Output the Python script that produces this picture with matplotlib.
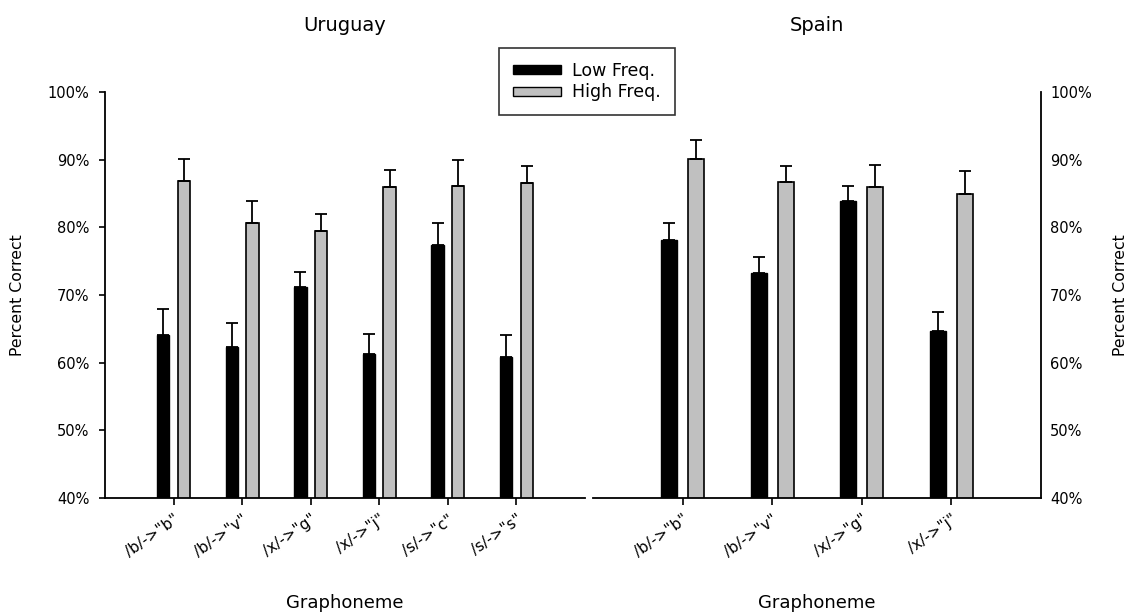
import matplotlib
matplotlib.use("Agg")
import matplotlib.pyplot as plt
import numpy as np
from matplotlib.patches import Patch

plt.rcParams['font.family'] = ['DejaVu Sans']

uru_labels = ['/b/->"b"', '/b/->"v"', '/x/->"g"', '/x/->"j"', '/s/->"c"', '/s/->"s"']
uru_low = [64.1, 62.3, 71.2, 61.3, 77.4, 60.9]
uru_low_err = [3.9, 3.5, 2.2, 2.9, 3.3, 3.2]
uru_high = [86.9, 80.6, 79.5, 86.0, 86.1, 86.5]
uru_high_err = [3.2, 3.3, 2.5, 2.4, 3.9, 2.5]

spa_labels = ['/b/->"b"', '/b/->"v"', '/x/->"g"', '/x/->"j"']
spa_low = [78.1, 73.2, 83.9, 64.7]
spa_low_err = [2.5, 2.4, 2.2, 2.8]
spa_high = [90.1, 86.7, 86.0, 84.9]
spa_high_err = [2.8, 2.4, 3.2, 3.4]

yticks = [40, 50, 60, 70, 80, 90, 100]
gray = '#c0c0c0'

fig = plt.figure(figsize=(11.33, 6.14), dpi=100)
ax1 = fig.add_axes([0.0927, 0.1889, 0.4236, 0.6613])
ax2 = fig.add_axes([0.5234, 0.1889, 0.3954, 0.6613])


def draw(ax, labels, low, low_err, high, high_err):
    x = np.arange(len(labels))
    w = 0.18
    ekw = dict(elinewidth=1.3, capthick=1.3, ecolor='black')
    ax.bar(x - 0.15, low, w, color='black', edgecolor='black',
           linewidth=1.0, yerr=[np.zeros(len(low)), low_err], capsize=4.5,
           error_kw=ekw, zorder=2)
    ax.bar(x + 0.15, high, w, color=gray, edgecolor='black', linewidth=1.2,
           yerr=[np.zeros(len(high)), high_err], capsize=4.5,
           error_kw=ekw, zorder=2)
    ax.set_xlim(-1, len(labels))
    ax.set_ylim(40, 100)
    ax.set_yticks(yticks)
    ax.set_yticklabels([f'{t}%' for t in yticks], fontsize=10.5)
    ax.set_xticks(x)
    ax.set_xticklabels(labels, rotation=35, ha='right', rotation_mode='anchor',
                       fontsize=11)
    ax.tick_params(axis='x', length=5, width=1.2, pad=5)
    ax.spines['top'].set_visible(False)
    for s in ax.spines.values():
        s.set_linewidth(1.3)
    ax.set_xlabel('Graphoneme', fontsize=13)
    ax.xaxis.set_label_coords(0.5, -0.2365)
    ax.set_ylabel('Percent Correct', fontsize=11.3)


draw(ax1, uru_labels, uru_low, uru_low_err, uru_high, uru_high_err)
ax1.spines['right'].set_visible(False)
ax1.tick_params(axis='y', length=4.3, width=1.2, pad=7)
ax1.yaxis.set_label_coords(-0.1667, 0.5)
ax1.set_title('Uruguay', fontsize=14, pad=44)

draw(ax2, spa_labels, spa_low, spa_low_err, spa_high, spa_high_err)
ax2.spines['left'].set_visible(False)
ax2.yaxis.tick_right()
ax2.yaxis.set_label_position('right')
ax2.tick_params(axis='y', length=0, pad=6.5)
ax2.yaxis.set_label_coords(1.1607, 0.5)
ax2.set_title('Spain', fontsize=14, pad=44)

handles = [Patch(facecolor='black', edgecolor='black', label='Low Freq.'),
           Patch(facecolor=gray, edgecolor='black', label='High Freq.')]
leg = fig.legend(handles=handles, loc='upper left',
                 bbox_to_anchor=(499 / 1133, 1 - 48 / 614), fontsize=12.5,
                 frameon=True, fancybox=False, edgecolor='black',
                 handlelength=2.75, handleheight=0.45, borderpad=0.8,
                 labelspacing=0.2, handletextpad=0.65, borderaxespad=0)
leg.get_frame().set_linewidth(1.2)

fig.savefig('out.png', dpi=100)
